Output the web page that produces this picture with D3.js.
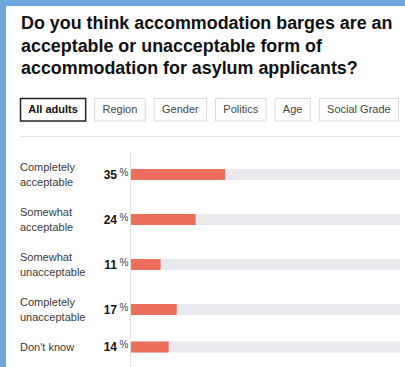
<!DOCTYPE html>
<html>
<head>
<meta charset="utf-8">
<script src="https://cdn.jsdelivr.net/npm/d3@7"></script>
<style>
  html, body { margin: 0; padding: 0; background: #ffffff; }
  svg { display: block; }
</style>
</head>
<body>
<svg id="chart" width="405" height="367"></svg>
<script>
// Survey question and answer breakdown (all adults)
const titleLines = [
  "Do you think accommodation barges are an",
  "acceptable or unacceptable form of",
  "accommodation for asylum applicants?"
];
const tabs = ["All adults", "Region", "Gender", "Politics", "Age", "Social Grade"];
const categories = [
  "Completely\nacceptable",
  "Somewhat\nacceptable",
  "Somewhat\nunacceptable",
  "Completely\nunacceptable",
  "Don't know"
];
const values = [35, 24, 11, 17, 14];

const W = 405, H = 367;
const svg = d3.select("#chart");
const font = "'Liberation Sans', Arial, sans-serif";

// Frame: blue edge on the top and left
svg.append("rect").attr("width", W).attr("height", H).attr("fill", "#6fa8dc");
svg.append("rect").attr("x", 6).attr("y", 6).attr("width", W - 6).attr("height", H - 6).attr("fill", "#ffffff");

// Title, sized so the longest line spans the panel's text width
const titleWidth = 372;
const title = svg.append("text")
  .attr("font-family", font)
  .attr("font-weight", 700)
  .attr("font-size", 19)
  .attr("fill", "#111");
const spans = titleLines.map((t, i) =>
  title.append("tspan").attr("x", 21).attr("y", 29 + i * 22.5).text(t));
const firstLen = spans[0].node().getComputedTextLength();
title.attr("font-size", 19 * titleWidth / firstLen);

// Tab buttons, padded to fill the row from x=20 to x=399
const tabG = svg.append("g").attr("font-family", font).attr("font-size", 11);
const tabGap = 8, tabStart = 20, tabEnd = 399;
const tabLabels = tabs.map((t, i) => tabG.append("text")
  .attr("y", 109.5)
  .attr("dy", "0.35em")
  .attr("text-anchor", "middle")
  .attr("font-weight", i === 0 ? 700 : 400)
  .attr("fill", i === 0 ? "#111" : "#444")
  .text(t));
const tws = tabLabels.map(l => l.node().getComputedTextLength());
const pad = (tabEnd - tabStart - tabGap * (tabs.length - 1) - d3.sum(tws)) / (2 * tabs.length);
let tx = tabStart;
tabs.forEach((t, i) => {
  const active = i === 0;
  const bw = tws[i] + 2 * pad;
  tabG.insert("rect", "text")
    .attr("x", tx + 0.5).attr("y", 98.5)
    .attr("width", bw - 1).attr("height", 22.5)
    .attr("fill", "#fff")
    .attr("stroke", active ? "#222" : "#dcdcdc")
    .attr("stroke-width", active ? 1.5 : 1);
  tabLabels[i].attr("x", tx + bw / 2);
  tx += bw + tabGap;
});

// Separator under the tabs
svg.append("line")
  .attr("x1", 20).attr("x2", 400)
  .attr("y1", 136.5).attr("y2", 136.5)
  .attr("stroke", "#e4e4e4").attr("stroke-width", 1);

// Rows: height depends on how many lines the label wraps to
const lineH = 15, rowGap = 15, firstCenter = 174.5;
const lines = categories.map(c => c.split("\n"));
const centers = [];
lines.forEach((l, i) => {
  if (i === 0) centers.push(firstCenter);
  else centers.push(centers[i - 1] + (lines[i - 1].length + l.length) / 2 * lineH + rowGap);
});
const y = d3.scaleOrdinal().domain(categories).range(centers);
const x = d3.scaleLinear().domain([0, 100]).range([131, 400]);
const barH = 11;

// Category labels
const labels = svg.append("g").attr("font-family", font).attr("font-size", 11).attr("fill", "#3a3a3a");
categories.forEach((c, i) => {
  const ls = lines[i];
  const t = labels.append("text");
  ls.forEach((s, j) => {
    t.append("tspan")
      .attr("x", 20)
      .attr("y", y(c) + (j - (ls.length - 1) / 2) * lineH)
      .attr("dy", "0.35em")
      .text(s);
  });
});

// Background tracks
svg.append("g").selectAll("rect").data(categories).join("rect")
  .attr("x", x(0)).attr("y", d => y(d) - barH / 2)
  .attr("width", x(100) - x(0)).attr("height", barH)
  .attr("fill", "#e9e9ee");

// Value bars
svg.append("g").selectAll("rect").data(values).join("rect")
  .attr("x", x(0)).attr("y", (d, i) => y(categories[i]) - barH / 2)
  .attr("width", d => x(d) - x(0)).attr("height", barH)
  .attr("fill", "#ec6f5b");

// Vertical baseline
svg.append("line")
  .attr("x1", x(0) - 0.5).attr("x2", x(0) - 0.5)
  .attr("y1", 152).attr("y2", H)
  .attr("stroke", "#e2e2e2").attr("stroke-width", 1);

// Value labels with a raised percent sign
const vals = svg.append("g").attr("font-family", font);
values.forEach((v, i) => {
  const cy = y(categories[i]);
  vals.append("text")
    .attr("x", 117).attr("y", cy).attr("dy", "0.35em")
    .attr("text-anchor", "end")
    .attr("font-size", 12).attr("font-weight", 700).attr("fill", "#111")
    .text(v);
  vals.append("text")
    .attr("x", 119.5).attr("y", cy - 2.5).attr("dy", "0.35em")
    .attr("font-size", 10).attr("fill", "#444")
    .text("%");
});
</script>
</body>
</html>
